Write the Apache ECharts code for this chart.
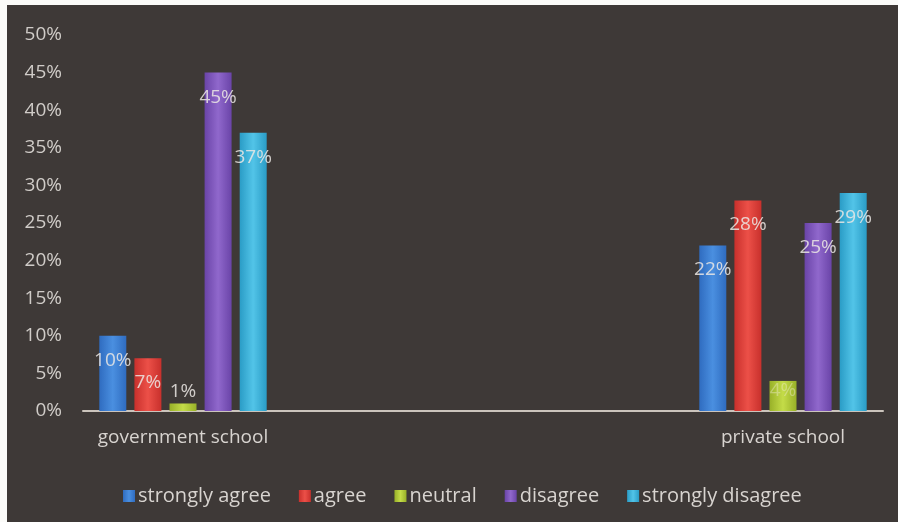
<!DOCTYPE html>
<html>
<head>
<meta charset="utf-8">
<script src="https://cdn.jsdelivr.net/npm/echarts@6/dist/echarts.min.js"></script>
<style>
html, body { margin: 0; padding: 0; background: #fbfbf9; }
#chart { position: absolute; left: 7px; top: 5px; width: 891px; height: 517px; }
</style>
</head>
<body>
<div id="chart"></div>
<script>
// two real categories, the middle two slots are empty (Excel spacing)
const categories = ['government school', '', '', 'private school']
const seriesNames = ['strongly agree', 'agree', 'neutral', 'disagree', 'strongly disagree']
const stronglyAgree = [10, '-', '-', 22]
const agree = [7, '-', '-', 28]
const neutral = [1, '-', '-', 4]
const disagree = [45, '-', '-', 25]
const stronglyDisagree = [37, '-', '-', 29]
const yTicks = [0, 5, 10, 15, 20, 25, 30, 35, 40, 45, 50]

const colors = [
  ['#2f6cc0', '#4a8fe0'],
  ['#c8302c', '#ec5048'],
  ['#98b028', '#c4dc48'],
  ['#6a44a8', '#9068cc'],
  ['#2a9cc6', '#52c4e8']
]

function barColor (i) {
  return new echarts.graphic.LinearGradient(0, 0, 1, 0, [
    { offset: 0, color: colors[i][0] },
    { offset: 0.5, color: colors[i][1] },
    { offset: 1, color: colors[i][0] }
  ])
}

const font = '"Open Sans", sans-serif'
const labelStyle = {
  show: true,
  position: 'insideTop',
  distance: 15,
  color: 'rgba(235,232,228,0.85)',
  fontSize: 19,
  fontFamily: font,
  formatter: '{c}%'
}

function makeSeries (name, values, i) {
  return {
    name: name,
    type: 'bar',
    barWidth: 27,
    barGap: '30%',
    itemStyle: { color: barColor(i) },
    label: labelStyle,
    data: values
  }
}

const allValues = [stronglyAgree, agree, neutral, disagree, stronglyDisagree]
const series = allValues.map((v, i) => makeSeries(seriesNames[i], v, i))
// small neutral bars: label sits above / on the bar
series[2].data = neutral.map((v, j) => {
  if (v === '-') return v
  if (j === 0) return { value: v, label: { position: 'top', distance: 2 } }
  return { value: v, label: { position: 'insideTop', distance: 0, color: 'rgba(235,232,200,0.45)' } }
})

const chart = echarts.init(document.getElementById('chart'))
chart.setOption({
  backgroundColor: '#3e3937',
  animation: false,
  textStyle: { fontFamily: font },
  legend: {
    data: seriesNames,
    left: 111,
    top: 476,
    itemWidth: 12,
    itemHeight: 12,
    itemGap: 28,
    icon: 'rect',
    textStyle: { color: '#d8d4d0', fontSize: 20, fontFamily: font, padding: [0, 0, 0, -2] }
  },
  grid: { left: 76, right: 15, top: 30, bottom: 111, containLabel: false },
  xAxis: {
    type: 'category',
    data: categories,
    axisLine: { lineStyle: { color: '#cbc4bc', width: 2 } },
    axisTick: { show: false },
    axisLabel: { interval: 0, color: '#d8d4d0', fontSize: 19, margin: 17, fontFamily: font }
  },
  yAxis: {
    type: 'value',
    min: yTicks[0],
    max: yTicks[yTicks.length - 1],
    interval: 5,
    axisLine: { show: false },
    axisTick: { show: false },
    splitLine: { show: false },
    axisLabel: { color: '#d0ccc8', fontSize: 19, margin: 21, formatter: '{value}%', fontFamily: font }
  },
  series: series
})
</script>
</body>
</html>
